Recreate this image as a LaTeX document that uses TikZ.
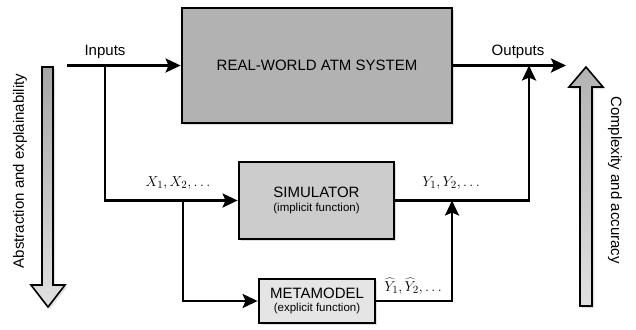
\documentclass[tikz,border=0pt]{standalone}
\usepackage{fontspec}
\setmainfont{Liberation Sans}
\usetikzlibrary{arrows.meta,shadows}

\newcommand{\bigsize}{\fontsize{15}{18}\selectfont}
\newcommand{\smallsize}{\fontsize{11.5}{13}\selectfont}

\tikzset{
  box/.style={draw, line width=2.8pt, align=center, inner sep=0pt,
    drop shadow={shadow xshift=2pt, shadow yshift=-2pt, opacity=0.25}},
  conn/.style={line width=2.6pt, -{Stealth[length=15pt,width=14pt,inset=3pt]}},
  bigtxt/.style={font=\bigsize},
  sidearrow/.style={draw, line width=1.6pt, line join=miter,
    drop shadow={shadow xshift=2pt, shadow yshift=-2pt, opacity=0.25}}
}

\begin{document}
\begin{tikzpicture}[x=1pt, y=-1pt]

            \useasboundingbox (0,0) rectangle (636,329);

            % sistema real
            \node[box, fill=black!30, minimum width=270, minimum height=115, bigtxt]
              (rws) at (317,65.5) {REAL-WORLD ATM SYSTEM};

            % simulador
            \node[box, fill=black!20, minimum width=155, minimum height=77]
              (sim) at (316.5,200.5) {{\bigsize SIMULATOR}\\[2pt]{\smallsize (implicit function)}};

            % metamodelo
            \node[box, fill=black!10, minimum width=116, minimum height=44]
              (meta) at (317,301) {{\bigsize METAMODEL}\\[1pt]{\smallsize (explicit function)}};

            % entradas
            \coordinate (in) at (67,65.5);
            \coordinate (br1) at (105,65.5);
            \coordinate (br2) at (183,200.5);
            \draw[conn] (in) -- (rws.west);
            \draw[conn] (br1) |- (sim.west);
            \draw[conn] (br2) |- (meta.west);
            \node[bigtxt] (inlbl) at (105,52) {Inputs};
            \node[bigtxt] (xlbl) at (178,183) {$X_1, X_2, \ldots$};

            % saidas
            \coordinate (out) at (566,65.5);
            \coordinate (oj) at (529,65.5);
            \coordinate (mj) at (452,200.5);
            \draw[conn] (rws.east) -- (out);
            \draw[conn] (sim.east) -| (oj);
            \draw[conn] (meta.east) -| (mj);
            \node[bigtxt] (outlbl) at (518,52) {Outputs};
            \node[bigtxt] (ylbl) at (451,183) {$Y_1, Y_2, \ldots$};
            \node[bigtxt] (yhatlbl) at (413,286) {$\widehat{Y}_1, \widehat{Y}_2, \ldots$};

            % seta abstracao
            \draw[sidearrow, top color=black!35, bottom color=black!12]
              (42,67) -- (53,67) -- (53,285) -- (65,285) -- (48,307)
              -- (31,285) -- (42,285) -- cycle;
            \node[bigtxt, rotate=90] (abslbl) at (20,171) {Abstraction and explainability};

            % seta complexidade
            \draw[sidearrow, top color=black!30, bottom color=black!12]
              (580,306) -- (592,306) -- (592,87) -- (603,87) -- (586,67)
              -- (569,87) -- (580,87) -- cycle;
            \node[bigtxt, rotate=-90] (complbl) at (615,180) {Complexity and accuracy};

\end{tikzpicture}
\end{document}
